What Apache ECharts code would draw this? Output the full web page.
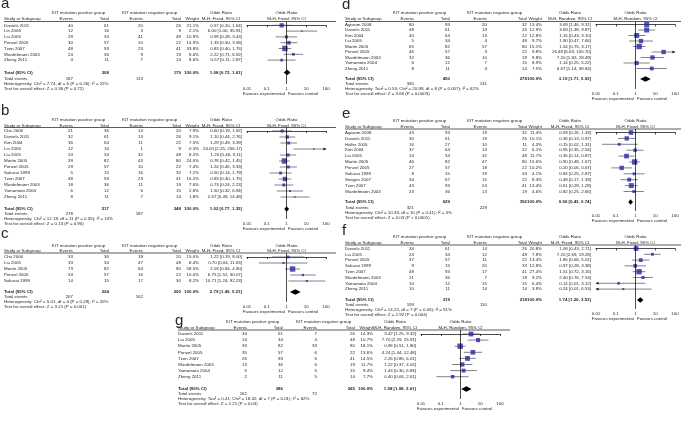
<!DOCTYPE html>
<html><head><meta charset="utf-8">
<script src="https://cdn.jsdelivr.net/npm/echarts@6/dist/echarts.min.js"></script>
<style>html,body{margin:0;padding:0;background:#fff}#c{width:685px;height:446px}</style>
</head><body><div id="c"></div>
<script>
// ---------- DATA ----------
const aStudy = ['Daniels 2011','Lin 2006','Liu 2005','Penzel 2005','Tzen 2007','Wardelmann 2003','Zheng 2011'];
const aEvP = [40,12,29,30,48,24,4];
const aTotP = [61,16,34,57,93,36,11];
const aEvN = [20,3,41,10,23,9,7];
const aTotN = [26,9,48,22,41,19,14];
const aWeight = [21.1,2.1,10.9,14.9,33.8,8.6,8.6];
const aOR = [0.57,6.00,0.99,1.33,0.83,2.22,0.57];
const aLow = [0.20,1.00,0.28,0.50,0.40,0.71,0.11];
const aHigh = [1.64,35.91,3.43,3.58,1.75,6.92,2.87];
const aTotal = [308,179,1.08,0.72,1.61];
const aEvents = [187,113];
const aHet = 'Heterogeneity: Chi\u00b2 = 7.74, df = 6 (P = 0.26); I\u00b2 = 22%';
const aTest = 'Test for overall effect: Z = 0.36 (P = 0.72)';

const bStudy = ['Cho 2006','Daniels 2011','Kim 2004','Lin 2006','Liu 2005','Martin 2005','Penzel 2005','Sakurai 1999','Tzen 2007','Wardelmann 2003','Yamamoto 2004','Zheng 2011'];
const bEvP = [21,32,36,12,24,39,29,5,48,18,6,8];
const bTotP = [36,61,64,16,34,82,57,15,93,36,12,11];
const bEvN = [14,13,11,1,32,43,10,16,23,11,6,7];
const bTotN = [20,26,22,9,48,80,22,32,41,19,15,14];
const bWeight = [7.9,9.1,7.5,0.3,8.2,24.0,7.4,7.2,16.2,7.6,2.8,1.8];
const bOR = [0.60,1.10,1.29,24.00,1.20,0.78,1.24,0.50,0.83,0.73,1.50,2.67];
const bLow = [0.19,0.44,0.49,2.25,0.46,0.42,0.46,0.14,0.40,0.24,0.32,0.49];
const bHigh = [1.92,2.76,3.39,256.17,3.11,1.45,3.33,1.79,1.75,2.23,6.94,14.48];
const bTotal = [517,348,1.02,0.77,1.35];
const bEvents = [278,187];
const bHet = 'Heterogeneity: Chi\u00b2 = 12.18, df = 11 (P = 0.35); I\u00b2 = 10%';
const bTest = 'Test for overall effect: Z = 0.13 (P = 0.90)';

const cStudy = ['Cho 2006','Liu 2005','Martin 2005','Penzel 2005','Sakurai 1999'];
const cEvP = [33,33,73,54,14];
const cTotP = [36,34,82,57,15];
const cEvN = [18,47,64,16,17];
const cTotN = [20,48,80,22,30];
const cWeight = [15.0,8.4,58.5,10.0,8.2];
const cOR = [1.22,0.70,2.03,6.75,10.71];
const cLow = [0.19,0.04,0.84,1.52,1.24];
const cHigh = [8.00,11.63,4.90,30.07,92.23];
const cTotal = [224,200,2.79,1.49,5.21];
const cEvents = [207,162];
const cHet = 'Heterogeneity: Chi\u00b2 = 5.01, df = 4 (P = 0.29); I\u00b2 = 20%';
const cTest = 'Test for overall effect: Z = 3.21 (P = 0.001)';

const dStudy = ['Agaram 2008','Daniels 2011','Kim 2004','Liu 2005','Martin 2005','Penzel 2005','Wardelmann 2003','Yamamoto 2004','Zheng 2011'];
const dEvP = [80,48,40,5,65,46,32,6,8];
const dTotP = [93,61,64,34,82,57,36,12,11];
const dEvN = [20,13,13,4,57,3,10,7,4];
const dTotN = [32,26,22,48,80,22,19,15,14];
const dWeight = [13.4,12.9,12.8,9.7,15.1,9.8,9.8,8.9,7.5];
const dOR = [3.69,3.69,1.15,1.90,1.54,26.48,7.20,1.14,6.67];
const dLow = [1.46,1.38,0.43,0.47,0.75,6.63,1.82,0.25,1.14];
const dHigh = [9.31,9.87,3.10,7.66,3.17,105.70,28.49,5.22,38.84];
const dTotal = [450,278,3.19,1.71,5.93];
const dEvents = [330,131];
const dHet = 'Heterogeneity: Tau\u00b2 = 0.53; Chi\u00b2 = 20.89, df = 8 (P = 0.007); I\u00b2 = 62%';
const dTest = 'Test for overall effect: Z = 3.66 (P = 0.0003)';

const eStudy = ['Agaram 2008','Daniels 2011','Haller 2005','Kim 2004','Liu 2005','Martin 2005','Penzel 2005','Sakurai 1999','Steigen 2007','Tzen 2007','Wardelmann 2003'];
const eEvP = [43,30,16,37,14,46,27,8,34,43,23];
const eTotP = [93,61,27,64,34,82,57,15,67,93,36];
const eEvN = [19,19,10,13,32,47,18,19,15,24,13];
const eTotN = [32,26,11,22,48,80,22,33,22,41,19];
const eWeight = [11.4,10.1,4.3,6.1,11.7,15.6,10.2,4.1,8.3,13.4,4.6];
const eOR = [0.59,0.36,0.15,0.95,0.35,0.90,0.20,0.84,0.48,0.61,0.82];
const eLow = [0.26,0.13,0.02,0.35,0.14,0.48,0.06,0.25,0.17,0.29,0.25];
const eHigh = [1.33,0.97,1.31,2.54,0.87,1.67,0.67,2.87,1.33,1.28,2.66];
const eTotal = [629,356,0.56,0.43,0.74];
const eEvents = [321,229];
const eHet = 'Heterogeneity: Chi\u00b2 = 10.33, df = 10 (P = 0.41); I\u00b2 = 3%';
const eTest = 'Test for overall effect: Z = 4.03 (P < 0.0001)';

const fStudy = ['Daniels 2011','Liu 2005','Penzel 2005','Sakurai 1999','Tzen 2007','Wardelmann 2003','Yamamoto 2004','Zheng 2011'];
const fEvP = [34,24,37,9,48,21,10,10];
const fTotP = [61,34,57,15,93,36,12,11];
const fEvN = [14,12,11,20,17,7,15,14];
const fTotN = [26,48,22,33,41,19,15,14];
const fWeight = [20.8,7.8,13.4,12.8,27.4,9.2,6.4,3.8];
const fOR = [1.08,7.20,1.85,0.97,1.51,2.40,0.14,0.24];
const fLow = [0.43,2.69,0.68,0.28,0.72,0.76,0.01,0.01];
const fHigh = [2.71,19.28,5.01,3.38,3.16,7.53,3.12,6.53];
const fTotal = [319,218,1.74,1.20,2.53];
const fEvents = [193,110];
const fHet = 'Heterogeneity: Chi\u00b2 = 14.22, df = 7 (P = 0.05); I\u00b2 = 51%';
const fTest = 'Test for overall effect: Z = 2.92 (P = 0.004)';

const gStudy = ['Daniels 2011','Liu 2005','Martin 2005','Penzel 2005','Tzen 2007','Wardelmann 2003','Yamamoto 2004','Zheng 2011'];
const gEvP = [34,14,33,35,26,13,5,2];
const gTotP = [61,34,82,57,93,36,12,11];
const gEvN = [7,4,33,6,6,6,5,5];
const gTotN = [26,48,80,22,41,19,15,14];
const gWeight = [14.3,10.7,18.1,13.6,14.5,11.7,9.4,7.7];
const gOR = [3.42,7.70,0.96,4.24,2.26,1.22,1.43,0.40];
const gLow = [1.25,2.29,0.51,1.44,0.85,0.37,0.30,0.06];
const gHigh = [9.32,25.91,1.80,12.48,6.01,4.02,6.84,2.61];
const gTotal = [386,265,1.98,1.08,3.61];
const gEvents = [162,72];
const gHet = 'Heterogeneity: Tau\u00b2 = 0.41; Chi\u00b2 = 18.42, df = 7 (P = 0.01); I\u00b2 = 62%';
const gTest = 'Test for overall effect: Z = 2.21 (P = 0.03)';

const tickValues = [0.01, 0.1, 1, 10, 100];
const tickLabels = ['0.01','0.1','1','10','100'];

// ---------- LAYOUT ----------
const FONT = '"Liberation Sans", Arial, sans-serif';
const FS = 4.4;
const LEFT = {name:4, evP:73, totP:109, evN:143, totN:181, wt:199, or:242, f0:247, f1:326, lineEnd:336};
const RIGHT = {name:4, evP:73, totP:109, evN:146, totN:186, wt:201, or:250, f0:255, f1:334, lineEnd:340};
const LAY = {
  a:{ox:0,   cols:LEFT,  letter:4,   h1:13,  h2:19,    line:21.5, r0:25.3,  step:5.8, tot:72.5, ev:78.5,  het:83.5,  test:88.5,  axis:84},
  b:{ox:0,   cols:LEFT,  letter:110.5, h1:120, h2:125.5, line:127.5, r0:131,  step:6.0, tot:209,  ev:214,   het:219,   test:224,   axis:219},
  c:{ox:0,   cols:LEFT,  letter:234, h1:246, h2:251,   line:253,  r0:257,   step:6.0, tot:292,  ev:297,   het:302,   test:307,   axis:302},
  d:{ox:341, cols:RIGHT, letter:5,   h1:13,  h2:19,    line:21.5, r0:24.5,  step:5.5, tot:79,   ev:84,    het:89,    test:94,    axis:89},
  e:{ox:341, cols:RIGHT, letter:114, h1:121, h2:127,   line:129,  r0:132.5, step:5.9, tot:202,  ev:207.5, het:212.5, test:217.5, axis:211},
  f:{ox:341, cols:RIGHT, letter:231, h1:237, h2:243,   line:245,  r0:248.5, step:5.8, tot:300,  ev:305,   het:310,   test:315,   axis:309},
  g:{ox:174, cols:LEFT,  letter:321, h1:322, h2:328,   line:330,  r0:334,   step:6.1, tot:389,  ev:394,   het:399,   test:404,   axis:399}
};

const panels = [
  {id:'a', st:aStudy, evP:aEvP, totP:aTotP, evN:aEvN, totN:aTotN, wt:aWeight, or:aOR, lo:aLow, hi:aHigh, sum:aTotal, evs:aEvents, het:aHet, test:aTest, model:'Fixed'},
  {id:'b', st:bStudy, evP:bEvP, totP:bTotP, evN:bEvN, totN:bTotN, wt:bWeight, or:bOR, lo:bLow, hi:bHigh, sum:bTotal, evs:bEvents, het:bHet, test:bTest, model:'Fixed'},
  {id:'c', st:cStudy, evP:cEvP, totP:cTotP, evN:cEvN, totN:cTotN, wt:cWeight, or:cOR, lo:cLow, hi:cHigh, sum:cTotal, evs:cEvents, het:cHet, test:cTest, model:'Fixed'},
  {id:'d', st:dStudy, evP:dEvP, totP:dTotP, evN:dEvN, totN:dTotN, wt:dWeight, or:dOR, lo:dLow, hi:dHigh, sum:dTotal, evs:dEvents, het:dHet, test:dTest, model:'Random'},
  {id:'e', st:eStudy, evP:eEvP, totP:eTotP, evN:eEvN, totN:eTotN, wt:eWeight, or:eOR, lo:eLow, hi:eHigh, sum:eTotal, evs:eEvents, het:eHet, test:eTest, model:'Fixed'},
  {id:'f', st:fStudy, evP:fEvP, totP:fTotP, evN:fEvN, totN:fTotN, wt:fWeight, or:fOR, lo:fLow, hi:fHigh, sum:fTotal, evs:fEvents, het:fHet, test:fTest, model:'Fixed'},
  {id:'g', st:gStudy, evP:gEvP, totP:gTotP, evN:gEvN, totN:gTotN, wt:gWeight, or:gOR, lo:gLow, hi:gHigh, sum:gTotal, evs:gEvents, het:gHet, test:gTest, model:'Random'}
];

const AXMIN = tickValues[0], AXMAX = tickValues[tickValues.length-1];
const TXT = '#262626';

function ciRender(params, api){
  const lo = api.value(0), hi = api.value(1), r = api.value(2);
  const p1 = api.coord([Math.max(lo, AXMIN), r]);
  const p2 = api.coord([Math.min(hi, AXMAX), r]);
  const ch = [{type:'line', shape:{x1:p1[0], y1:p1[1], x2:p2[0], y2:p2[1]}, style:{stroke:'#4a4a5a', lineWidth:0.7}}];
  if (lo <= AXMIN) ch.push({type:'polygon', shape:{points:[[p1[0]-0.5,p1[1]],[p1[0]+2.6,p1[1]-1.3],[p1[0]+2.6,p1[1]+1.3]]}, style:{fill:'#111'}});
  if (hi >= AXMAX) ch.push({type:'polygon', shape:{points:[[p2[0]+0.5,p2[1]],[p2[0]-2.6,p2[1]-1.3],[p2[0]-2.6,p2[1]+1.3]]}, style:{fill:'#111'}});
  return {type:'group', children:ch};
}
function diamondRender(params, api){
  const r = api.value(2);
  const a = api.coord([api.value(0), r]), b = api.coord([api.value(1), r]), c = api.coord([api.value(3), r]);
  const h = 2.7;
  return {type:'polygon', shape:{points:[[a[0],a[1]],[c[0],c[1]-h],[b[0],b[1]],[c[0],c[1]+h]]}, style:{fill:'#000'}};
}

const grids=[], xAxes=[], yAxes=[], series=[], gr=[];
function T(x, y, text, align, bold, size, va){
  gr.push({type:'text', x:x, y:y, silent:true, z:10,
    style:{text:String(text), fontSize:size||FS, fontFamily:FONT, fontWeight:bold?'bold':'normal',
      fill:TXT, align:align||'left', verticalAlign:va||'middle'}});
}
function HL(x1, x2, y, w, col){
  gr.push({type:'line', silent:true, shape:{x1:x1, y1:y, x2:x2, y2:y}, style:{stroke:col||'#444', lineWidth:w||0.7}});
}

panels.forEach((p, i) => {
  const L = LAY[p.id], C = L.cols, ox = L.ox;
  const totRow = (L.tot - L.r0) / L.step;
  grids.push({left: ox + C.f0, width: C.f1 - C.f0, top: L.line, height: L.axis - L.line, containLabel:false, outerBoundsMode:'none'});
  xAxes.push({gridIndex:i, type:'log', logBase:10, min:AXMIN, max:AXMAX, splitNumber:4,
    axisLine:{show:true, lineStyle:{color:'#000', width:0.7}},
    axisTick:{show:true, length:2, lineStyle:{color:'#000', width:0.7}},
    splitLine:{show:false},
    axisLabel:{fontSize:FS, color:TXT, fontFamily:FONT, margin:2.5,
      formatter: v => { const k = tickValues.findIndex(t => Math.abs(Math.log10(t) - Math.log10(v)) < 1e-6); return k >= 0 ? tickLabels[k] : ''; }}});
  yAxes.push({gridIndex:i, type:'value', inverse:true, show:false,
    min:(L.line - L.r0) / L.step, max:(L.axis - L.r0) / L.step});
  const maxW = Math.max(...p.wt);
  series.push({type:'custom', xAxisIndex:i, yAxisIndex:i, renderItem:ciRender, clip:false, silent:true, z:2,
    encode:{x:[0,1], y:2}, data:p.lo.map((lo, k) => [lo, p.hi[k], k])});
  series.push({type:'scatter', xAxisIndex:i, yAxisIndex:i, symbol:'rect', silent:true, z:3,
    data:p.or.map((v, k) => [v, k, p.wt[k]]),
    symbolSize: d => Math.max(1.5, Math.sqrt(d[2] / maxW) * 5.4),
    itemStyle:{color:'#2828a0'},
    markLine:{silent:true, symbol:'none', animation:false, label:{show:false},
      lineStyle:{color:'#000', width:0.7, type:'solid'}, data:[{xAxis:1}]}});
  series.push({type:'custom', xAxisIndex:i, yAxisIndex:i, renderItem:diamondRender, clip:false, silent:true, z:4,
    encode:{x:[0,1,3], y:2}, data:[[p.sum[3], p.sum[4], totRow, p.sum[2]]]});

  // text table
  T(ox + 1, L.letter, p.id, 'left', false, 15);
  const fc = ox + (C.f0 + C.f1) / 2;
  T(ox + (C.evP - 25 + C.totP) / 2, L.h1, 'KIT mutation positive group', 'center');
  T(ox + (C.evN - 25 + C.totN) / 2, L.h1, 'KIT mutation negative group', 'center');
  T(ox + C.or - 21, L.h1, 'Odds Ratio', 'center');
  T(fc, L.h1, 'Odds Ratio', 'center');
  T(ox + C.name, L.h2, 'Study or Subgroup');
  T(ox + C.evP, L.h2, 'Events', 'right');
  T(ox + C.totP, L.h2, 'Total', 'right');
  T(ox + C.evN, L.h2, 'Events', 'right');
  T(ox + C.totN, L.h2, 'Total', 'right');
  T(ox + C.wt, L.h2, 'Weight', 'right');
  const ci = 'M-H, ' + p.model + ', 95% CI';
  T(ox + C.or - 21, L.h2, ci, 'center');
  T(fc, L.h2, ci, 'center');
  HL(ox + C.name, ox + C.lineEnd, L.line, 0.8, '#333');
  p.st.forEach((s, k) => {
    const y = L.r0 + k * L.step;
    T(ox + C.name, y, s);
    T(ox + C.evP, y, p.evP[k], 'right');
    T(ox + C.totP, y, p.totP[k], 'right');
    T(ox + C.evN, y, p.evN[k], 'right');
    T(ox + C.totN, y, p.totN[k], 'right');
    T(ox + C.wt, y, p.wt[k].toFixed(1) + '%', 'right');
    T(ox + C.or, y, p.or[k].toFixed(2) + ' [' + p.lo[k].toFixed(2) + ', ' + p.hi[k].toFixed(2) + ']', 'right');
  });
  T(ox + C.name, L.tot, 'Total (95% CI)', 'left', true);
  T(ox + C.totP, L.tot, p.sum[0], 'right', true);
  T(ox + C.totN, L.tot, p.sum[1], 'right', true);
  T(ox + C.wt, L.tot, '100.0%', 'right', true);
  T(ox + C.or, L.tot, p.sum[2].toFixed(2) + ' [' + p.sum[3].toFixed(2) + ', ' + p.sum[4].toFixed(2) + ']', 'right', true);
  T(ox + C.name, L.ev, 'Total events');
  T(ox + C.evP, L.ev, p.evs[0], 'right');
  T(ox + C.evN, L.ev, p.evs[1], 'right');
  T(ox + C.name, L.het, p.het);
  T(ox + C.name, L.test, p.test);
});

const chart = echarts.init(document.getElementById('c'), null, {renderer:'canvas'});
chart.setOption({
  animation:false, backgroundColor:'#fff',
  grid:grids, xAxis:xAxes, yAxis:yAxes, series:series
});
// "Favours" captions placed at the pixel of OR = 1 on each panel's own axis
panels.forEach((p, i) => {
  const L = LAY[p.id];
  const px = chart.convertToPixel({xAxisIndex:i, yAxisIndex:i}, [1, 0]);
  T(px[0] - 1.5, L.axis + 10, 'Favours experimental', 'right');
  T(px[0] + 1.5, L.axis + 10, 'Favours control', 'left');
});
chart.setOption({graphic:{elements:gr}});
</script>
</body></html>
